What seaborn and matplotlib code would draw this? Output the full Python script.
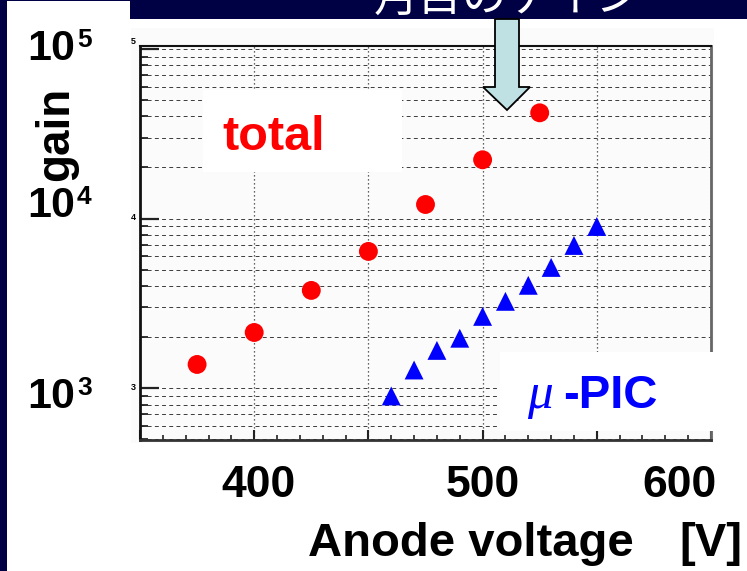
import matplotlib
matplotlib.use("Agg")
import matplotlib.pyplot as plt
from matplotlib.patches import Rectangle, Polygon
from matplotlib.ticker import MultipleLocator, LogLocator, NullFormatter
import pandas as pd
import seaborn as sns

# Gain versus anode voltage
total_voltage = [375, 400, 425, 450, 475, 500, 525]
total_gain = [1380, 2130, 3770, 6400, 12100, 22200, 42000]
upic_voltage = [460, 470, 480, 490, 500, 510, 520, 530, 540, 550]
upic_gain = [900, 1280, 1670, 1970, 2650, 3250, 4040, 5150, 6940, 8980]

series_names = ["total", "μ-PIC"]
x_tick_labels = ["400", "500", "600"]
decade_labels = ["5", "4", "3"]
title_text = "月目のゲイン"

df = pd.concat([
    pd.DataFrame({"voltage": total_voltage, "gain": total_gain, "detector": series_names[0]}),
    pd.DataFrame({"voltage": upic_voltage, "gain": upic_gain, "detector": series_names[1]}),
], ignore_index=True)

sns.set_style("ticks")
plt.rcParams["font.family"] = ["Liberation Sans", "DejaVu Sans"]

W, H = 747, 571
NAVY = "#000044"


def fx(px):
    return px / W


def fy(py):
    return 1 - py / H


def rect(x0, y0, x1, y1, **kw):
    return Rectangle((fx(x0), fy(y1)), fx(x1) - fx(x0), fy(y0) - fy(y1),
                     transform=fig.transFigure, **kw)


fig = plt.figure(figsize=(W / 100, H / 100), dpi=100)
fig.patch.set_facecolor(NAVY)

# slide body and title bar
fig.text(fx(374), fy(11), title_text, color="white", fontsize=32,
         family=["Noto Sans CJK JP", "DejaVu Sans"], ha="left", va="baseline", zorder=-11)
fig.add_artist(rect(7, 19, W, H, facecolor="white", edgecolor="none", zorder=-10))
fig.add_artist(rect(7, 1, 130, 19, facecolor="white", edgecolor="none", zorder=-10))
fig.add_artist(rect(131, 28, 714, 443, facecolor="#fbfbfb", edgecolor="none", zorder=-9))

ax = fig.add_axes([fx(140), fy(440), fx(711) - fx(140), fy(46) - fy(440)])
ax.set_facecolor("#fbfbfb")

sns.scatterplot(data=df, x="voltage", y="gain", hue="detector", style="detector",
                palette={series_names[0]: "#ff0000", series_names[1]: "#0000ff"},
                markers={series_names[0]: "o", series_names[1]: "^"},
                s=185, edgecolor="none", linewidth=0, legend=False, ax=ax, zorder=4)

ax.set_yscale("log")
ax.set_xlim(350, 600)
ax.set_ylim(495, 1.04e5)
ax.xaxis.set_major_locator(MultipleLocator(50))
ax.xaxis.set_minor_locator(MultipleLocator(10))
ax.yaxis.set_major_locator(LogLocator(base=10))
ax.yaxis.set_minor_locator(LogLocator(base=10, subs=range(2, 10)))
ax.xaxis.set_major_formatter(NullFormatter())
ax.yaxis.set_major_formatter(NullFormatter())
ax.yaxis.set_minor_formatter(NullFormatter())
ax.set_xlabel("")
ax.set_ylabel("")

ax.yaxis.grid(True, which="both", color="#3c3c3c", linewidth=0.7, linestyle=(0, (4, 3.4)))
ax.xaxis.grid(True, which="major", color="#333333", linewidth=0.9, linestyle=(0, (1, 2.2)))
ax.set_axisbelow(True)

ax.tick_params(axis="y", which="major", direction="in", length=14, width=1.6, color="#222")
ax.tick_params(axis="y", which="minor", direction="in", length=6, width=1.3, color="#222")
ax.tick_params(axis="x", which="major", direction="in", length=7, width=1.5, color="#222")
ax.tick_params(axis="x", which="minor", direction="in", length=3.6, width=1.2, color="#222")

ax.spines["left"].set_linewidth(2.0)
ax.spines["left"].set_color("#111")
ax.spines["bottom"].set_linewidth(2.0)
ax.spines["bottom"].set_color("#333")
ax.spines["top"].set_linewidth(1.5)
ax.spines["top"].set_color("#111")
ax.spines["right"].set_linewidth(2.0)
ax.spines["right"].set_color("#666")

# white label boxes laid over the plot
fig.add_artist(rect(203, 90, 402, 172, facecolor="white", edgecolor="none", zorder=2))
fig.add_artist(rect(500, 352, W, 431, facecolor="white", edgecolor="none", zorder=2))

# arrow pointing at the plot
arrow_px = [(495, 19), (519, 19), (519, 87), (530, 87), (507, 110), (483, 87), (495, 87)]
fig.add_artist(Polygon([(fx(x), fy(y)) for x, y in arrow_px], closed=True,
                       transform=fig.transFigure, facecolor="#bfe1e4",
                       edgecolor="black", linewidth=1.3, zorder=3))

# small leftover exponents at the axis
for lab, ypx in zip(decade_labels, [42, 218, 388]):
    fig.text(fx(133), fy(ypx), lab, fontsize=6.5, fontweight="bold", ha="center",
             va="center", color="black", zorder=5)

# decade labels
for lab, base_y in zip(decade_labels, [60, 217, 408]):
    fig.text(fx(27), fy(base_y), "10", fontsize=31, fontweight="bold", color="black",
             ha="left", va="baseline", zorder=5)
    fig.text(fx(77), fy(base_y - 13), lab, fontsize=19, fontweight="bold", color="black",
             ha="left", va="baseline", zorder=5)

fig.text(fx(56), fy(134), "gain", fontsize=33, fontweight="bold", rotation=90,
         ha="center", va="center", color="black", zorder=5)

for lab, xc in zip(x_tick_labels, [258, 483, 680]):
    fig.text(fx(xc), fy(497), lab, fontsize=32, fontweight="bold", ha="center",
             va="baseline", color="black", zorder=5)

fig.text(fx(308), fy(556), "Anode voltage", fontsize=34, fontweight="bold",
         ha="left", va="baseline", color="black", zorder=5)
fig.text(fx(742), fy(556), "[V]", fontsize=34, fontweight="bold",
         ha="right", va="baseline", color="black", zorder=5)

fig.text(fx(222), fy(150), series_names[0], fontsize=35, fontweight="bold",
         ha="left", va="baseline", color="#ff0000", zorder=5)
fig.text(fx(527), fy(408), "μ", fontsize=37, style="italic",
         family=["Liberation Serif", "DejaVu Serif"], ha="left", va="baseline",
         color="#0000ff", zorder=5)
fig.text(fx(563), fy(408), "-PIC", fontsize=34, fontweight="bold",
         ha="left", va="baseline", color="#0000ff", zorder=5)

fig.savefig("out.png", dpi=100, facecolor=fig.get_facecolor())
